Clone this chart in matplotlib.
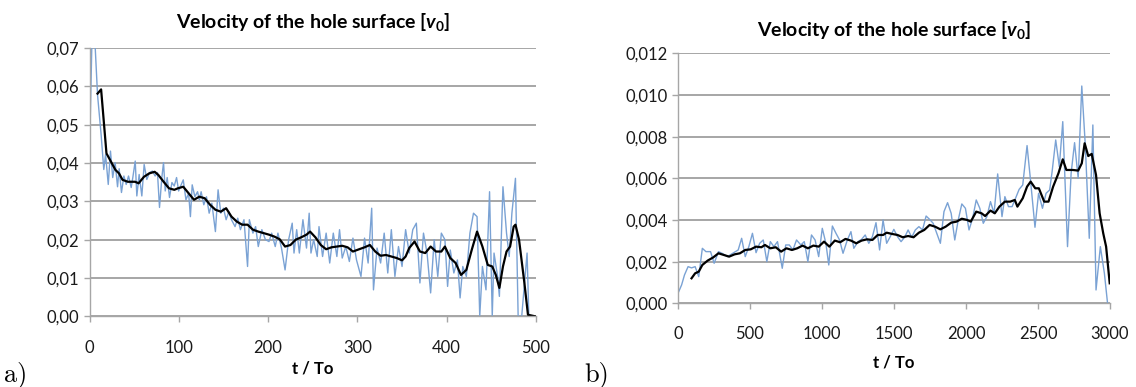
import matplotlib
matplotlib.use("Agg")
import matplotlib.pyplot as plt

plt.rcParams['font.family'] = ['Lato', 'DejaVu Sans']
plt.rcParams['mathtext.fontset'] = 'custom'
plt.rcParams['mathtext.it'] = 'Lato:italic:bold'
plt.rcParams['mathtext.rm'] = 'Lato:bold'

# ---------------- panel a) data ----------------
a_raw_t = [0, 3, 6, 9, 13, 16, 18, 21, 23.5, 26, 28.7, 31.4, 33.2, 35.8, 38.5, 41.1, 43.7, 46.7, 48.5,
           51.2, 53, 55.6, 58.6, 61.2, 64.2, 67.2, 70.5, 73.5, 76.1, 78.4, 81, 82.9, 84.8, 87, 89.6,
           92.3, 94.9, 97.5, 99.8, 101, 105, 108, 111, 113, 115, 118, 121, 123, 125, 128, 131, 134,
           137, 141, 144, 147, 150, 153, 156, 159, 163, 166, 169, 173, 177, 179, 183, 186, 189, 193,
           197, 201, 204, 208, 211, 215, 219, 223, 227, 229, 232, 235, 239, 243, 246, 248, 251, 255,
           257, 261, 265, 269, 273, 277, 280, 283, 287, 291, 295, 299, 304, 308, 312, 316, 318, 322,
           326, 330, 334, 338, 342, 346, 350, 354, 358, 362, 366, 370, 374, 378, 382, 386, 390, 394,
           398, 401, 404, 408, 412, 415, 418, 422, 426, 430, 434, 437, 440, 444, 448, 451, 453, 457,
           459, 463, 467, 470, 473, 477, 480, 484, 490, 492]
a_raw_v = [0.042, 0.075, 0.072, 0.0578, 0.0474, 0.0383, 0.0422, 0.0344, 0.0431, 0.0362, 0.0401, 0.0338,
           0.0385, 0.0323, 0.0366, 0.0344, 0.0366, 0.0336, 0.0362, 0.0405, 0.0314, 0.037, 0.0314, 0.0396,
           0.0357, 0.0375, 0.0379, 0.0366, 0.0375, 0.0284, 0.0362, 0.0401, 0.0327, 0.0362, 0.031, 0.0349,
           0.034, 0.0362, 0.0327, 0.0334, 0.0356, 0.0304, 0.0321, 0.026, 0.0343, 0.0312, 0.0325, 0.0304,
           0.0325, 0.0291, 0.0312, 0.0269, 0.0295, 0.0221, 0.033, 0.0269, 0.0282, 0.0252, 0.0273, 0.0252,
           0.0234, 0.0256, 0.0226, 0.0252, 0.013, 0.0252, 0.0217, 0.0234, 0.0182, 0.0226, 0.020, 0.0195,
           0.0217, 0.0182, 0.0217, 0.0178, 0.0121, 0.020, 0.0243, 0.0165, 0.0226, 0.0165, 0.0252, 0.0178,
           0.0269, 0.0165, 0.020, 0.0156, 0.0234, 0.0156, 0.0217, 0.0139, 0.0217, 0.0156, 0.0226, 0.0152,
           0.0182, 0.0143, 0.0204, 0.0147, 0.0104, 0.0204, 0.0139, 0.0282, 0.0069, 0.0178, 0.0139, 0.0217,
           0.0113, 0.0226, 0.0104, 0.0182, 0.013, 0.0226, 0.0165, 0.0226, 0.0243, 0.0087, 0.0217, 0.0165,
           0.0061, 0.0200, 0.0104, 0.0217, 0.020, 0.0078, 0.0173, 0.0113, 0.0147, 0.0048, 0.013, 0.0104,
           0.0217, 0.0269, 0.026, 0.0, 0.013, 0.0069, 0.0325, 0.0, 0.0165, 0.0104, 0.0052, 0.0338, 0.0217,
           0.0156, 0.0269, 0.036, 0.0, 0.0, 0.0165, 0.0]

a_avg_t = [9, 13, 19, 23, 29, 33, 37, 43, 51, 55, 61, 67, 73, 77, 83, 89, 95, 99, 105, 111, 117, 123,
           129, 135, 141, 147, 153, 159, 165, 171, 177, 183, 189, 195, 201, 207, 213, 219, 225, 231, 237,
           243, 247, 253, 259, 265, 271, 277, 283, 289, 295, 302, 308, 314, 320, 326, 332, 338, 344, 350,
           354, 358, 364, 370, 376, 382, 388, 394, 398, 404, 410, 416, 422, 428, 434, 440, 446, 451, 455,
           459, 463, 467, 471, 475, 477, 481, 487, 491, 499]
a_avg_v = [0.0581, 0.0592, 0.0425, 0.0408, 0.0382, 0.0373, 0.0356, 0.0351, 0.0351, 0.0347, 0.0364, 0.0373,
           0.0377, 0.0369, 0.0351, 0.0334, 0.033, 0.0334, 0.0338, 0.0321, 0.0304, 0.0312, 0.0308, 0.0291,
           0.0278, 0.0273, 0.0282, 0.026, 0.0247, 0.0239, 0.0239, 0.0226, 0.0221, 0.0217, 0.0213, 0.0208,
           0.0201, 0.0182, 0.0186, 0.020, 0.0206, 0.0213, 0.0221, 0.0206, 0.0186, 0.0175, 0.018, 0.0182,
           0.0184, 0.018, 0.0169, 0.0175, 0.018, 0.0186, 0.0169, 0.0158, 0.016, 0.0156, 0.0152, 0.0146,
           0.0156, 0.0178, 0.0195, 0.0169, 0.0165, 0.0182, 0.0169, 0.0169, 0.0182, 0.0152, 0.0139, 0.0108,
           0.0121, 0.0173, 0.0221, 0.0182, 0.0134, 0.013, 0.0108, 0.0074, 0.013, 0.0169, 0.0182, 0.0234,
           0.0239, 0.020, 0.0087, 0.0004, 0.0]

a_xticks = [0, 100, 200, 300, 400, 500]
a_yticks = [0.00, 0.01, 0.02, 0.03, 0.04, 0.05, 0.06, 0.07]
a_ylabels = ["0,00", "0,01", "0,02", "0,03", "0,04", "0,05", "0,06", "0,07"]

# ---------------- panel b) data ----------------
b_raw_t = [0, 25, 45, 70, 94, 119, 144, 169, 194, 226, 251, 281, 306, 343, 380, 418, 442, 467, 492, 517,
           542, 567, 592, 617, 641, 666, 691, 724, 748, 773, 798, 823, 853, 877, 902, 927, 952, 977, 1002,
           1027, 1047, 1072, 1097, 1122, 1146, 1176, 1201, 1221, 1250, 1275, 1300, 1325, 1350, 1375, 1400,
           1424, 1449, 1474, 1499, 1524, 1549, 1574, 1598, 1623, 1648, 1673, 1698, 1723, 1747, 1772, 1797,
           1822, 1847, 1872, 1897, 1922, 1946, 1971, 1996, 2021, 2046, 2071, 2096, 2120, 2145, 2170, 2195,
           2220, 2250, 2270, 2295, 2320, 2344, 2369, 2394, 2424, 2449, 2479, 2504, 2531, 2556, 2581, 2598,
           2623, 2648, 2672, 2705, 2730, 2754, 2779, 2804, 2829, 2856, 2881, 2903, 2933, 2961, 2983]
b_raw_v = [0.00048, 0.00088, 0.00136, 0.00176, 0.0017, 0.00176, 0.00128, 0.00264, 0.00248, 0.00248,
           0.00192, 0.00248, 0.0024, 0.00224, 0.0024, 0.00256, 0.00312, 0.00224, 0.00272, 0.00336, 0.00243,
           0.00288, 0.00304, 0.002, 0.00296, 0.00272, 0.00296, 0.00168, 0.0028, 0.0028, 0.00256, 0.00304,
           0.0028, 0.00296, 0.002, 0.00328, 0.00304, 0.00224, 0.0036, 0.00288, 0.00184, 0.00371, 0.00336,
           0.00304, 0.0024, 0.00304, 0.00344, 0.00264, 0.00296, 0.00307, 0.00328, 0.00288, 0.0032, 0.00387,
           0.00256, 0.004, 0.00288, 0.0032, 0.00355, 0.0032, 0.00296, 0.00317, 0.00352, 0.00317, 0.00352,
           0.00368, 0.00352, 0.00419, 0.00403, 0.00384, 0.00336, 0.00288, 0.0044, 0.00483, 0.00432, 0.00304,
           0.004, 0.00477, 0.00456, 0.00352, 0.00408, 0.00496, 0.00456, 0.00384, 0.00416, 0.00488, 0.00432,
           0.00621, 0.00416, 0.00512, 0.00464, 0.00464, 0.00504, 0.00547, 0.00568, 0.00757, 0.00584, 0.00365,
           0.00528, 0.00456, 0.00528, 0.00544, 0.00632, 0.00784, 0.00656, 0.00872, 0.00272, 0.00624, 0.00771,
           0.006, 0.01043, 0.00752, 0.00312, 0.00856, 0.00064, 0.00272, 0.00144, 0.0]

b_avg_t = [94, 119, 144, 169, 206, 244, 281, 318, 355, 393, 430, 467, 505, 542, 579, 604, 641, 679, 716,
           753, 791, 828, 865, 902, 940, 977, 1014, 1051, 1089, 1126, 1163, 1201, 1238, 1275, 1312, 1350,
           1387, 1424, 1449, 1486, 1524, 1561, 1598, 1636, 1673, 1710, 1747, 1785, 1822, 1859, 1897, 1934,
           1971, 2008, 2033, 2071, 2108, 2133, 2170, 2200, 2232, 2270, 2307, 2339, 2357, 2394, 2424, 2449,
           2481, 2506, 2543, 2573, 2605, 2642, 2672, 2697, 2742, 2779, 2804, 2824, 2849, 2873, 2903, 2928,
           2953, 2973, 2998]
b_avg_v = [0.0012, 0.00144, 0.00152, 0.00184, 0.00205, 0.0022, 0.0024, 0.00232, 0.00224, 0.00235, 0.0024,
           0.00256, 0.00259, 0.00272, 0.00269, 0.0028, 0.00264, 0.00269, 0.00248, 0.00264, 0.00256, 0.00264,
           0.00277, 0.00264, 0.00277, 0.00272, 0.00296, 0.00272, 0.00301, 0.00293, 0.00309, 0.00301, 0.00288,
           0.00301, 0.00307, 0.00304, 0.00328, 0.00328, 0.00339, 0.00333, 0.00328, 0.00317, 0.00323, 0.00317,
           0.00339, 0.00352, 0.00376, 0.00368, 0.00355, 0.00368, 0.00387, 0.00392, 0.00406, 0.004, 0.00392,
           0.0044, 0.00432, 0.00419, 0.00445, 0.00432, 0.00464, 0.00488, 0.00488, 0.00496, 0.00464, 0.00504,
           0.0056, 0.00584, 0.00552, 0.00552, 0.00488, 0.00488, 0.0056, 0.00624, 0.00691, 0.0064, 0.0064,
           0.00637, 0.00672, 0.00768, 0.00707, 0.00717, 0.00616, 0.00432, 0.00336, 0.00272, 0.00096]

b_xticks = [0, 500, 1000, 1500, 2000, 2500, 3000]
b_yticks = [0.000, 0.002, 0.004, 0.006, 0.008, 0.010, 0.012]
b_ylabels = ["0,000", "0,002", "0,004", "0,006", "0,008", "0,010", "0,012"]

title_text = r"Velocity of the hole surface [$\mathit{v}_\mathrm{0}$]"
xlabel_text = "t / To"
panel_labels = ["a)", "b)"]

BLUE = "#7AA2D4"
GRID = "#A6A6A6"

fig = plt.figure(figsize=(11.36, 3.87), dpi=100)
W, H = 1136, 387

def add_ax(x0, x1, ytop, ybot):
    return fig.add_axes([x0 / W, 1 - ybot / H, (x1 - x0) / W, (ybot - ytop) / H])

def style(ax, xticks, yticks, ylabels, xlim, ylim, xpad, labelpad):
    ax.set_xlim(*xlim)
    ax.set_ylim(*ylim)
    ax.set_xticks(xticks)
    ax.set_xticklabels([str(x) for x in xticks])
    ax.set_yticks(yticks)
    ax.set_yticklabels(ylabels)
    ax.yaxis.grid(True, color=GRID, linewidth=1.4)
    ax.set_axisbelow(True)
    for s in ("top", "right"):
        ax.spines[s].set_visible(False)
    for s in ("left", "bottom"):
        ax.spines[s].set_color(GRID)
        ax.spines[s].set_linewidth(1.0)
    ax.tick_params(axis="both", direction="out", length=4, width=1.0, color=GRID,
                   labelsize=12, labelcolor="#1a1a1a")
    ax.tick_params(axis="x", pad=xpad)
    ax.set_xlabel(xlabel_text, fontsize=12, fontweight="bold", labelpad=labelpad)

# panel a
ax1 = add_ax(89.5, 536, 48, 316.3)
ax1.plot(a_raw_t, a_raw_v, color=BLUE, lw=1.0)
ax1.plot(a_avg_t, a_avg_v, color="black", lw=1.6)
style(ax1, a_xticks, a_yticks, a_ylabels, (0, 500), (0, 0.07), xpad=13, labelpad=3.5)

# panel b
ax2 = add_ax(678, 1110, 53.3, 303.3)
ax2.plot(b_raw_t, b_raw_v, color=BLUE, lw=1.0)
ax2.plot(b_avg_t, b_avg_v, color="black", lw=1.6)
style(ax2, b_xticks, b_yticks, b_ylabels, (0, 3000), (0, 0.012), xpad=12, labelpad=9.5)

fig.text((89.5 + 536) / 2 / W, 1 - 22 / H, title_text, fontsize=14, fontweight="bold",
         ha="center", va="center")
fig.text((678 + 1110) / 2 / W, 1 - 30 / H, title_text, fontsize=14, fontweight="bold",
         ha="center", va="center")

fig.text(4 / W, 1 - 375 / H, panel_labels[0], fontsize=19, family="cmr10", va="center", ha="left")
fig.text(584 / W, 1 - 375 / H, panel_labels[1], fontsize=19, family="cmr10", va="center", ha="left")

fig.savefig("out.png", dpi=100)
